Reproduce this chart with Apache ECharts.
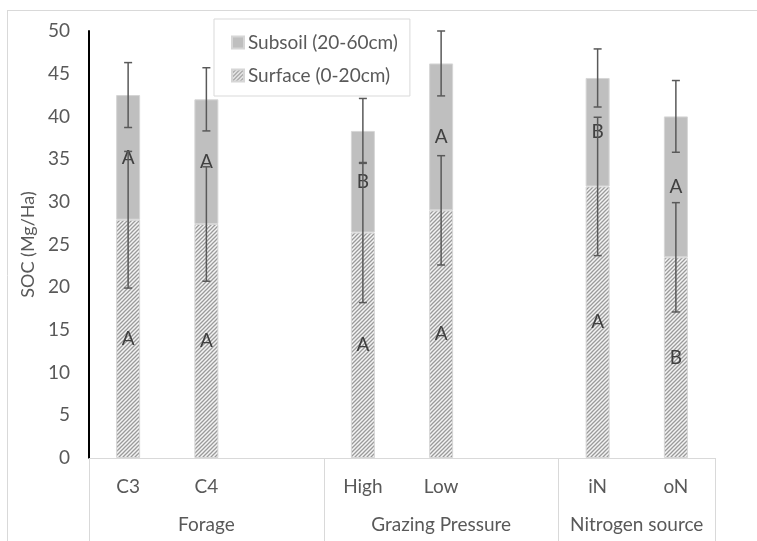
<!DOCTYPE html>
<html>
<head>
<meta charset="utf-8">
<script src="https://cdn.jsdelivr.net/npm/echarts@6/dist/echarts.min.js"></script>
<style>html,body{margin:0;padding:0;background:#fff}#c{width:757px;height:541px}</style>
</head>
<body>
<div id="c"></div>
<script>
// ---- data ----
const categories = ['C3', 'C4', '', 'High', 'Low', '', 'iN', 'oN'];
const groupNames = ['Forage', 'Grazing Pressure', 'Nitrogen source'];
const groupCenters = [1.5, 4.5, 7];
const groupBounds = [0, 3, 6, 8];
const surface = [27.9, 27.4, null, 26.4, 29.0, null, 31.8, 23.5];
const subsoil = [14.6, 14.6, null, 11.9, 17.2, null, 12.7, 16.5];
const surfaceErr = [8.0, 6.7, null, 8.2, 6.4, null, 8.1, 6.4];
const subsoilErr = [3.8, 3.7, null, 3.8, 3.8, null, 3.4, 4.2];
const surfaceLetters = ['A', 'A', '', 'A', 'A', '', 'A', 'B'];
const subsoilLetters = ['A', 'A', '', 'B', 'A', '', 'B', 'A'];
const yTicks = [0, 5, 10, 15, 20, 25, 30, 35, 40, 45, 50];

// hatch pattern
const pc = document.createElement('canvas');
const s = 4;
pc.width = s; pc.height = s;
const g = pc.getContext('2d');
g.fillStyle = '#f4f4f4'; g.fillRect(0, 0, s, s);
g.strokeStyle = '#9a9a9a'; g.lineWidth = 1.3;
g.beginPath();
g.moveTo(0, s); g.lineTo(s, 0);
g.moveTo(-1, 1); g.lineTo(1, -1);
g.moveTo(s - 1, s + 1); g.lineTo(s + 1, s - 1);
g.stroke();

const FONT = 'Lato, "Open Sans", sans-serif';
const TXT = '#595959';
const FS = 19;

const errData = [];
for (let i = 0; i < categories.length; i++) {
  if (surface[i] != null) {
    errData.push([i, surface[i], surfaceErr[i]]);
    errData.push([i, surface[i] + subsoil[i], subsoilErr[i]]);
  }
}

const chart = echarts.init(document.getElementById('c'), null, {renderer: 'canvas'});
chart.setOption({
  animation: false,
  textStyle: {fontFamily: FONT},
  grid: {left: 89, right: 42, top: 31, bottom: 83, containLabel: false},
  legend: {
    data: ['Subsoil (20-60cm)', 'Surface (0-20cm)'],
    orient: 'vertical',
    left: 214, top: 19,
    padding: [14, 12, 11, 17],
    itemWidth: 12, itemHeight: 12, itemGap: 14,
    icon: 'rect',
    borderColor: '#d9d9d9', borderWidth: 1, backgroundColor: '#fff',
    textStyle: {fontSize: FS, color: TXT, fontFamily: FONT, lineHeight: 19, padding: [0, 0, 0, -1]},
    selectedMode: false
  },
  xAxis: [{
    type: 'category', data: categories, position: 'bottom',
    axisLine: {lineStyle: {color: '#d9d9d9', width: 1}},
    axisTick: {show: false},
    axisLabel: {fontSize: FS, color: TXT, margin: 19, interval: 0}
  }, {
    type: 'value', min: 0, max: 8, position: 'bottom',
    axisLine: {show: false}, splitLine: {show: false},
    axisTick: {show: true, customValues: groupBounds, length: 83, lineStyle: {color: '#d9d9d9', width: 1}},
    axisLabel: {customValues: groupCenters, fontSize: FS, color: TXT, margin: 57,
      formatter: function (v) { const k = groupCenters.indexOf(v); return k >= 0 ? groupNames[k] : ''; }}
  }],
  yAxis: {
    type: 'value', min: 0, max: 50, interval: 5,
    name: 'SOC (Mg/Ha)', nameLocation: 'middle', nameGap: 51, nameRotate: 90,
    nameTextStyle: {fontSize: 18, color: TXT},
    axisLine: {show: true, lineStyle: {color: '#000', width: 2}},
    axisTick: {show: false},
    splitLine: {show: false},
    axisLabel: {fontSize: FS, color: TXT, margin: 19}
  },
  series: [{
    name: 'Surface (0-20cm)', type: 'bar', stack: 'soc', barWidth: 24,
    data: surface,
    itemStyle: {color: {image: pc, repeat: 'repeat'}, borderColor: '#d6d6d6', borderWidth: 1},
    label: {show: true, position: 'inside', fontSize: FS, color: '#404040',
      formatter: p => surfaceLetters[p.dataIndex]}
  }, {
    name: 'Subsoil (20-60cm)', type: 'bar', stack: 'soc', barWidth: 24,
    data: subsoil,
    itemStyle: {color: '#bfbfbf', borderColor: '#d6d6d6', borderWidth: 1},
    label: {show: true, position: 'inside', fontSize: FS, color: '#404040',
      formatter: p => subsoilLetters[p.dataIndex]}
  }, {
    name: 'err', type: 'custom', xAxisIndex: 0, z: 10,
    data: errData,
    renderItem: function (params, api) {
      const x = api.value(0), c = api.value(1), e = api.value(2);
      const hi = api.coord([x, c + e]);
      const lo = api.coord([x, c - e]);
      const st = {stroke: '#595959', lineWidth: 1.5};
      const w = 4;
      return {type: 'group', children: [
        {type: 'line', shape: {x1: hi[0], y1: hi[1], x2: lo[0], y2: lo[1]}, style: st},
        {type: 'line', shape: {x1: hi[0] - w, y1: hi[1], x2: hi[0] + w, y2: hi[1]}, style: st},
        {type: 'line', shape: {x1: lo[0] - w, y1: lo[1], x2: lo[0] + w, y2: lo[1]}, style: st}
      ]};
    }
  }],
  graphic: [
    {type: 'line', shape: {x1: 7, y1: 10.5, x2: 757, y2: 10.5}, style: {stroke: '#d9d9d9', lineWidth: 1}, silent: true},
    {type: 'line', shape: {x1: 7.5, y1: 10, x2: 7.5, y2: 541}, style: {stroke: '#d9d9d9', lineWidth: 1}, silent: true}
  ]
});
</script>
</body>
</html>
